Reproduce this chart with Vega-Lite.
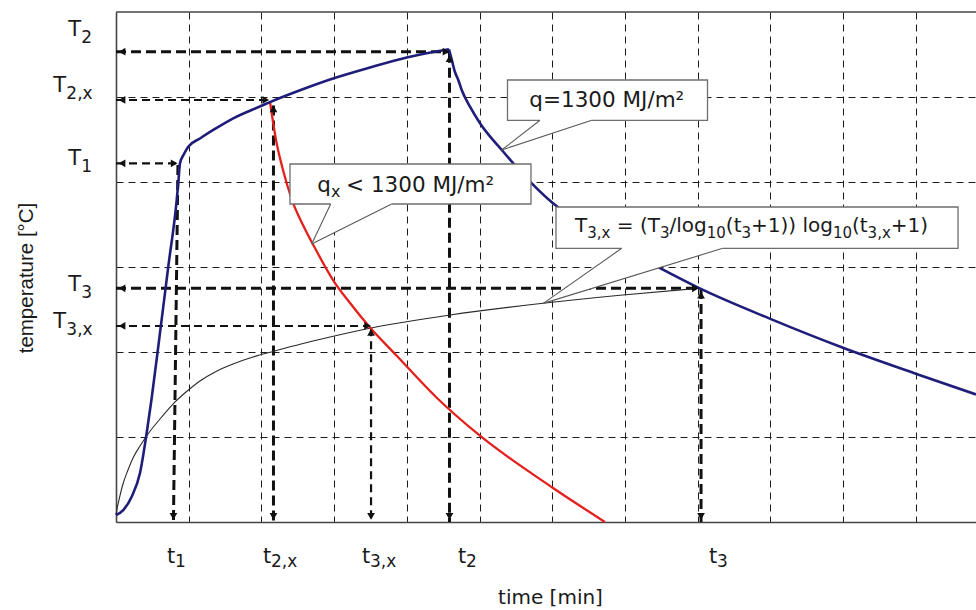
{
  "$schema": "https://vega.github.io/schema/vega-lite/v6.json",
  "width": 860,
  "height": 510,
  "autosize": {"type": "none"},
  "padding": {"left": 116, "top": 12, "right": 0, "bottom": 88},
  "background": "#ffffff",
  "view": {"stroke": null},
  "config": {
    "font": "DejaVu Sans",
    "axis": {
      "ticks": false,
      "labels": false,
      "domain": true,
      "domainColor": "#444444",
      "domainWidth": 1.6,
      "grid": true,
      "gridColor": "#1c1c1c",
      "gridWidth": 1,
      "gridDash": [7, 5],
      "titleFontWeight": "normal",
      "titleColor": "#1a1a1a"
    }
  },
  "datasets": {
    "frame": [{"x": 0, "x2": 11.829, "y": 6}],
    "curves": [
      {"curve": "heating", "x": 0, "y": 0.082},
      {"curve": "heating", "x": 0.1, "y": 0.141},
      {"curve": "heating", "x": 0.216, "y": 0.298},
      {"curve": "heating", "x": 0.33, "y": 0.576},
      {"curve": "heating", "x": 0.422, "y": 1.047},
      {"curve": "heating", "x": 0.491, "y": 1.459},
      {"curve": "heating", "x": 0.605, "y": 2.224},
      {"curve": "heating", "x": 0.719, "y": 3.004},
      {"curve": "heating", "x": 0.835, "y": 3.788},
      {"curve": "heating", "x": 0.86, "y": 4.024},
      {"curve": "heating", "x": 0.88, "y": 4.22},
      {"curve": "heating", "x": 0.935, "y": 4.329},
      {"curve": "heating", "x": 0.994, "y": 4.415},
      {"curve": "heating", "x": 1.155, "y": 4.512},
      {"curve": "heating", "x": 1.338, "y": 4.612},
      {"curve": "heating", "x": 1.613, "y": 4.749},
      {"curve": "heating", "x": 1.994, "y": 4.894},
      {"curve": "heating", "x": 2.118, "y": 4.94},
      {"curve": "heating", "x": 2.531, "y": 5.079},
      {"curve": "heating", "x": 2.944, "y": 5.206},
      {"curve": "heating", "x": 3.494, "y": 5.347},
      {"curve": "heating", "x": 3.999, "y": 5.465},
      {"curve": "heating", "x": 4.58, "y": 5.561},
      {"curve": "cooling", "x": 4.58, "y": 5.561},
      {"curve": "cooling", "x": 4.615, "y": 5.45},
      {"curve": "cooling", "x": 4.66, "y": 5.3},
      {"curve": "cooling", "x": 4.708, "y": 5.2},
      {"curve": "cooling", "x": 4.755, "y": 5.082},
      {"curve": "cooling", "x": 4.869, "y": 4.886},
      {"curve": "cooling", "x": 5.007, "y": 4.691},
      {"curve": "cooling", "x": 5.327, "y": 4.356},
      {"curve": "cooling", "x": 5.695, "y": 4.004},
      {"curve": "cooling", "x": 6.011, "y": 3.749},
      {"curve": "cooling", "x": 6.52, "y": 3.455},
      {"curve": "cooling", "x": 7.043, "y": 3.19},
      {"curve": "cooling", "x": 7.497, "y": 2.98},
      {"curve": "cooling", "x": 8.001, "y": 2.76},
      {"curve": "cooling", "x": 9.0, "y": 2.39},
      {"curve": "cooling", "x": 10.0, "y": 2.05},
      {"curve": "cooling", "x": 11.0, "y": 1.745},
      {"curve": "cooling", "x": 11.829, "y": 1.5},
      {"curve": "reduced", "x": 2.118, "y": 4.945},
      {"curve": "reduced", "x": 2.201, "y": 4.494},
      {"curve": "reduced", "x": 2.297, "y": 4.141},
      {"curve": "reduced", "x": 2.421, "y": 3.788},
      {"curve": "reduced", "x": 2.572, "y": 3.494},
      {"curve": "reduced", "x": 2.751, "y": 3.2},
      {"curve": "reduced", "x": 2.985, "y": 2.847},
      {"curve": "reduced", "x": 3.219, "y": 2.576},
      {"curve": "reduced", "x": 3.494, "y": 2.288},
      {"curve": "reduced", "x": 3.851, "y": 1.965},
      {"curve": "reduced", "x": 4.415, "y": 1.459},
      {"curve": "reduced", "x": 4.993, "y": 1.024},
      {"curve": "reduced", "x": 6.011, "y": 0.4},
      {"curve": "reduced", "x": 6.726, "y": 0},
      {"curve": "log", "x": 0, "y": 0.082},
      {"curve": "log", "x": 0.014, "y": 0.153},
      {"curve": "log", "x": 0.041, "y": 0.259},
      {"curve": "log", "x": 0.096, "y": 0.447},
      {"curve": "log", "x": 0.165, "y": 0.612},
      {"curve": "log", "x": 0.234, "y": 0.753},
      {"curve": "log", "x": 0.33, "y": 0.894},
      {"curve": "log", "x": 0.44, "y": 1.035},
      {"curve": "log", "x": 0.605, "y": 1.212},
      {"curve": "log", "x": 0.784, "y": 1.388},
      {"curve": "log", "x": 0.963, "y": 1.529},
      {"curve": "log", "x": 1.155, "y": 1.659},
      {"curve": "log", "x": 1.376, "y": 1.771},
      {"curve": "log", "x": 1.609, "y": 1.859},
      {"curve": "log", "x": 1.884, "y": 1.941},
      {"curve": "log", "x": 2.16, "y": 2.006},
      {"curve": "log", "x": 2.545, "y": 2.094},
      {"curve": "log", "x": 2.944, "y": 2.176},
      {"curve": "log", "x": 3.494, "y": 2.279},
      {"curve": "log", "x": 4.594, "y": 2.435},
      {"curve": "log", "x": 5.873, "y": 2.573},
      {"curve": "log", "x": 6.932, "y": 2.668},
      {"curve": "log", "x": 8.005, "y": 2.749}
    ],
    "primary_guides": [
      {"guide": "T2", "x": 0, "y": 5.533, "x2": 4.58, "y2": 5.533},
      {"guide": "t2", "x": 4.587, "y": 5.52, "x2": 4.587, "y2": 0},
      {"guide": "T3", "x": 0, "y": 2.749, "x2": 8.02, "y2": 2.749},
      {"guide": "t3", "x": 8.047, "y": 2.74, "x2": 8.047, "y2": 0},
      {"guide": "t2x", "x": 2.166, "y": 4.9, "x2": 2.166, "y2": 0},
      {"guide": "t1", "x": 0.852, "y": 4.2, "x2": 0.79, "y2": 0}
    ],
    "secondary_guides": [
      {"guide": "T2x", "x": 0, "y": 4.965, "x2": 2.1, "y2": 4.965},
      {"guide": "T1", "x": 0, "y": 4.22, "x2": 0.85, "y2": 4.22},
      {"guide": "T3x", "x": 0, "y": 2.306, "x2": 3.49, "y2": 2.306},
      {"guide": "t3x", "x": 3.508, "y": 2.28, "x2": 3.508, "y2": 0}
    ],
    "heads": [
      {"x": 0.083, "y": 5.533, "points": "left"},
      {"x": 4.54, "y": 5.533, "points": "right"},
      {"x": 4.587, "y": 5.45, "points": "up"},
      {"x": 4.587, "y": 0.065, "points": "down"},
      {"x": 0.083, "y": 4.965, "points": "left"},
      {"x": 2.06, "y": 4.965, "points": "right"},
      {"x": 2.166, "y": 4.86, "points": "up"},
      {"x": 2.166, "y": 0.065, "points": "down"},
      {"x": 0.083, "y": 4.22, "points": "left"},
      {"x": 0.8, "y": 4.22, "points": "right"},
      {"x": 0.79, "y": 0.065, "points": "down"},
      {"x": 0.083, "y": 2.749, "points": "left"},
      {"x": 7.97, "y": 2.749, "points": "right"},
      {"x": 8.047, "y": 2.67, "points": "up"},
      {"x": 8.047, "y": 0.065, "points": "down"},
      {"x": 0.083, "y": 2.306, "points": "left"},
      {"x": 3.46, "y": 2.306, "points": "right"},
      {"x": 3.508, "y": 2.23, "points": "up"},
      {"x": 3.508, "y": 0.065, "points": "down"}
    ],
    "boxes": [
      {"note": "q", "x": 5.385, "x2": 8.136, "y": 5.2, "y2": 4.726},
      {"note": "qx", "x": 2.393, "x2": 5.708, "y": 4.212, "y2": 3.741},
      {"note": "formula", "x": 6.052, "x2": 11.582, "y": 3.706, "y2": 3.22}
    ],
    "tail_fill": [
      {"note": "q", "x": 5.305, "y": 4.376, "y2": 4.376},
      {"note": "q", "x": 5.832, "y": 4.726, "y2": 4.525},
      {"note": "q", "x": 6.543, "y": 4.726, "y2": 4.726},
      {"note": "qx", "x": 2.692, "y": 3.27, "y2": 3.27},
      {"note": "qx", "x": 2.953, "y": 3.741, "y2": 3.382},
      {"note": "qx", "x": 3.792, "y": 3.741, "y2": 3.741},
      {"note": "formula", "x": 5.877, "y": 2.572, "y2": 2.572},
      {"note": "formula", "x": 6.956, "y": 3.22, "y2": 2.856},
      {"note": "formula", "x": 8.345, "y": 3.22, "y2": 3.22}
    ],
    "tail_base": [
      {"note": "q", "x": 5.832, "x2": 6.543, "y": 4.726},
      {"note": "qx", "x": 2.953, "x2": 3.792, "y": 3.741},
      {"note": "formula", "x": 6.956, "x2": 8.345, "y": 3.22}
    ],
    "tail_lines": [
      {"note": "q", "x": 5.305, "y": 4.376, "x2": 5.832, "y2": 4.726},
      {"note": "q", "x": 5.305, "y": 4.376, "x2": 6.543, "y2": 4.726},
      {"note": "qx", "x": 2.692, "y": 3.27, "x2": 2.953, "y2": 3.741},
      {"note": "qx", "x": 2.692, "y": 3.27, "x2": 3.792, "y2": 3.741},
      {"note": "formula", "x": 5.877, "y": 2.572, "x2": 6.956, "y2": 3.22},
      {"note": "formula", "x": 5.877, "y": 2.572, "x2": 8.345, "y2": 3.22}
    ],
    "load_text": [
      {"note": "q", "piece": "q=1300 MJ/m²", "x": 5.685, "y": 4.879},
      {"note": "qx", "piece": "q", "x": 2.769, "y": 3.886},
      {"note": "qx", "piece": "< 1300 MJ/m²", "x": 3.164, "y": 3.886}
    ],
    "load_sub": [
      {"note": "qx", "piece": "x", "x": 2.957, "y": 3.886}
    ],
    "formula_text": [
      {"piece": "T", "x": 6.314, "y": 3.406},
      {"piece": "= (T", "x": 6.889, "y": 3.406},
      {"piece": "/log", "x": 7.612, "y": 3.406},
      {"piece": "(t", "x": 8.388, "y": 3.406},
      {"piece": "+1)) log", "x": 8.735, "y": 3.406},
      {"piece": "(t", "x": 10.124, "y": 3.406},
      {"piece": "+1)", "x": 10.657, "y": 3.406}
    ],
    "formula_sub": [
      {"piece": "3,x", "x": 6.481, "y": 3.406},
      {"piece": "3", "x": 7.481, "y": 3.406},
      {"piece": "10", "x": 8.125, "y": 3.406},
      {"piece": "3", "x": 8.602, "y": 3.406},
      {"piece": "10", "x": 9.861, "y": 3.406},
      {"piece": "3,x", "x": 10.338, "y": 3.406}
    ],
    "temp_labels": [
      {"base": "T", "sub": "2", "x": -0.656, "y": 5.718},
      {"base": "T", "sub": "2,x", "x": -0.862, "y": 5.059},
      {"base": "T", "sub": "1", "x": -0.656, "y": 4.2},
      {"base": "T", "sub": "3", "x": -0.656, "y": 2.718},
      {"base": "T", "sub": "3,x", "x": -0.862, "y": 2.282}
    ],
    "time_labels": [
      {"base": "t", "sub": "1", "x": 0.702, "y": -0.482},
      {"base": "t", "sub": "2,x", "x": 2.022, "y": -0.482},
      {"base": "t", "sub": "3,x", "x": 3.384, "y": -0.482},
      {"base": "t", "sub": "2", "x": 4.704, "y": -0.482},
      {"base": "t", "sub": "3", "x": 8.157, "y": -0.482}
    ]
  },
  "encoding": {
    "x": {
      "field": "x",
      "type": "quantitative",
      "scale": {"domain": [0, 11.829], "nice": false, "zero": false},
      "axis": {
        "values": [1, 2, 3, 4, 5, 6, 7, 8, 9, 10, 11],
        "title": "time [min]",
        "titleFont": "DejaVu Sans",
        "titleFontSize": 20,
        "titleX": 434,
        "titleY": 81,
        "titleAlign": "center",
        "titleBaseline": "alphabetic"
      }
    },
    "y": {
      "field": "y",
      "type": "quantitative",
      "stack": null,
      "scale": {"domain": [0, 6], "nice": false, "zero": false},
      "axis": {
        "values": [1, 2, 3, 4, 5],
        "title": "temperature [°C]",
        "titleFont": "Liberation Sans",
        "titleFontSize": 20.5,
        "titleAngle": 270,
        "titleX": -84,
        "titleY": 265.5,
        "titleAlign": "center",
        "titleBaseline": "alphabetic"
      }
    }
  },
  "layer": [
    {
      "data": {"name": "frame"},
      "mark": {"type": "rule", "color": "#444444", "strokeWidth": 1.6},
      "encoding": {"x2": {"field": "x2"}}
    },
    {
      "data": {"name": "primary_guides"},
      "mark": {"type": "rule", "color": "#111111", "strokeWidth": 3, "strokeDash": [10, 5]},
      "encoding": {"x2": {"field": "x2"}, "y2": {"field": "y2"}}
    },
    {
      "data": {"name": "secondary_guides"},
      "mark": {"type": "rule", "color": "#111111", "strokeWidth": 2.2, "strokeDash": [8, 5]},
      "encoding": {"x2": {"field": "x2"}, "y2": {"field": "y2"}}
    },
    {
      "data": {"name": "curves"},
      "transform": [{"filter": "datum.curve === 'log'"}],
      "mark": {"type": "line", "color": "#2a2a2a", "strokeWidth": 1.1, "interpolate": "monotone"},
      "encoding": {}
    },
    {
      "data": {"name": "curves"},
      "transform": [{"filter": "datum.curve === 'reduced'"}],
      "mark": {"type": "line", "color": "#e3201c", "strokeWidth": 2.3, "interpolate": "monotone"},
      "encoding": {}
    },
    {
      "data": {"name": "curves"},
      "transform": [{"filter": "datum.curve === 'heating' || datum.curve === 'cooling'"}],
      "mark": {"type": "line", "color": "#1f1d7a", "strokeWidth": 2.6, "interpolate": "monotone"},
      "encoding": {"detail": {"field": "curve"}}
    },
    {
      "data": {"name": "heads"},
      "mark": {"type": "point", "filled": true, "color": "#111111", "opacity": 1, "size": 60},
      "encoding": {
        "shape": {
          "field": "points",
          "type": "nominal",
          "scale": {"domain": ["left", "right", "up", "down"], "range": ["triangle-left", "triangle-right", "triangle-up", "triangle-down"]},
          "legend": null
        }
      }
    },
    {
      "data": {"name": "boxes"},
      "mark": {"type": "rect", "fill": "#ffffff", "stroke": "#6e6e6e", "strokeWidth": 1.3},
      "encoding": {"x2": {"field": "x2"}, "y2": {"field": "y2"}}
    },
    {
      "data": {"name": "tail_fill"},
      "mark": {"type": "area", "color": "#ffffff", "opacity": 1, "orient": "vertical", "interpolate": "linear"},
      "encoding": {"y2": {"field": "y2"}, "detail": {"field": "note"}}
    },
    {
      "data": {"name": "tail_base"},
      "mark": {"type": "rule", "color": "#ffffff", "strokeWidth": 3},
      "encoding": {"x2": {"field": "x2"}}
    },
    {
      "data": {"name": "tail_lines"},
      "mark": {"type": "rule", "color": "#5a5a5a", "strokeWidth": 1.1},
      "encoding": {"x2": {"field": "x2"}, "y2": {"field": "y2"}}
    },
    {
      "data": {"name": "load_text"},
      "mark": {"type": "text", "align": "left", "baseline": "alphabetic", "font": "DejaVu Sans", "fontSize": 21.5, "color": "#1a1a1a"},
      "encoding": {"text": {"field": "piece"}}
    },
    {
      "data": {"name": "load_sub"},
      "mark": {"type": "text", "align": "left", "baseline": "alphabetic", "font": "DejaVu Sans", "fontSize": 16, "color": "#1a1a1a", "dy": 5},
      "encoding": {"text": {"field": "piece"}}
    },
    {
      "data": {"name": "formula_text"},
      "mark": {"type": "text", "align": "left", "baseline": "alphabetic", "font": "DejaVu Sans", "fontSize": 20, "color": "#1a1a1a"},
      "encoding": {"text": {"field": "piece"}}
    },
    {
      "data": {"name": "formula_sub"},
      "mark": {"type": "text", "align": "left", "baseline": "alphabetic", "font": "DejaVu Sans", "fontSize": 15, "color": "#1a1a1a", "dy": 6},
      "encoding": {"text": {"field": "piece"}}
    },
    {
      "data": {"name": "temp_labels"},
      "mark": {"type": "text", "align": "left", "baseline": "alphabetic", "font": "DejaVu Sans", "fontSize": 21, "color": "#1a1a1a"},
      "encoding": {"text": {"field": "base"}}
    },
    {
      "data": {"name": "temp_labels"},
      "mark": {"type": "text", "align": "left", "baseline": "alphabetic", "font": "DejaVu Sans", "fontSize": 17, "color": "#1a1a1a", "dx": 13, "dy": 7},
      "encoding": {"text": {"field": "sub"}}
    },
    {
      "data": {"name": "time_labels"},
      "mark": {"type": "text", "align": "left", "baseline": "alphabetic", "font": "DejaVu Sans", "fontSize": 21, "color": "#1a1a1a"},
      "encoding": {"text": {"field": "base"}}
    },
    {
      "data": {"name": "time_labels"},
      "mark": {"type": "text", "align": "left", "baseline": "alphabetic", "font": "DejaVu Sans", "fontSize": 17, "color": "#1a1a1a", "dx": 8, "dy": 4},
      "encoding": {"text": {"field": "sub"}}
    }
  ]
}
